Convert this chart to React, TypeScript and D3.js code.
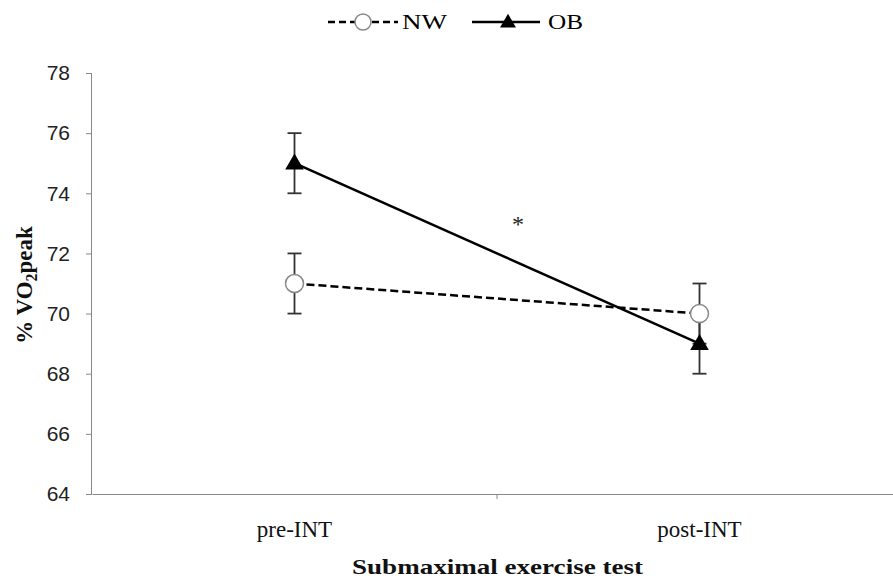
import React, { useEffect, useRef } from "react";
import * as d3 from "d3";

const categories = ["pre-INT", "post-INT"];
const nwValues = [71, 70];
const nwErrors = [1, 1];
const obValues = [75, 69];
const obErrors = [1, 1];
const yTicks = [64, 66, 68, 70, 72, 74, 76, 78];

const App = () => {
  const ref = useRef<SVGSVGElement>(null);

  useEffect(() => {
    const svg = d3.select(ref.current);
    svg.selectAll("*").remove();

    const width = 893;
    const height = 580;
    const left = 92;
    const right = 902;
    const top = 73;
    const bottom = 494;
    const serif = "Liberation Serif, Times New Roman, serif";

    const x = d3.scaleBand().domain(categories).range([left, right]);
    const y = d3.scaleLinear().domain([64, 78]).range([bottom, top]);
    const cx = (c: string) => (x(c) as number) + x.bandwidth() / 2;

    svg.attr("width", width).attr("height", height);
    svg.append("rect").attr("width", width).attr("height", height).attr("fill", "#fff");

    // y axis
    const yAxis = svg.append("g").attr("transform", `translate(${left},0)`)
      .call(d3.axisLeft(y).tickValues(yTicks).tickSize(6).tickPadding(16));
    yAxis.select(".domain").attr("stroke", "#888").attr("d", `M-0.5,${top}V${bottom}`);
    yAxis.selectAll(".tick line").attr("stroke", "#888");
    yAxis.selectAll("text").attr("font-family", "Liberation Sans, Arial, sans-serif")
      .attr("font-size", 21).attr("fill", "#222");

    // x axis
    const xAxis = svg.append("g").attr("transform", `translate(0,${bottom})`)
      .call(d3.axisBottom(x).tickSize(0).tickPadding(27));
    xAxis.select(".domain").attr("stroke", "#888");
    xAxis.selectAll("text").attr("font-family", serif)
      .attr("font-size", 23).attr("fill", "#111");
    xAxis.append("line").attr("x1", x("post-INT") as number).attr("x2", x("post-INT") as number)
      .attr("y1", 0).attr("y2", 5).attr("stroke", "#888");

    // axis titles
    svg.append("text").attr("x", 497.5).attr("y", 574)
      .attr("text-anchor", "middle").attr("font-family", serif)
      .attr("font-weight", "bold").attr("font-size", 22).attr("fill", "#111")
      .attr("textLength", 291).attr("lengthAdjust", "spacingAndGlyphs")
      .text("Submaximal exercise test");

    const yt = svg.append("text").attr("transform", `translate(32,285) rotate(-90)`)
      .attr("text-anchor", "middle").attr("font-family", serif)
      .attr("font-weight", "bold").attr("font-size", 23).attr("fill", "#111");
    yt.append("tspan").text("% VO");
    yt.append("tspan").attr("dy", 5).attr("font-size", 16).text("2");
    yt.append("tspan").attr("dy", -5).text("peak");

    // error bars
    const errBars = (vals: number[], errs: number[]) => {
      vals.forEach((v, i) => {
        const px = cx(categories[i]);
        const g = svg.append("g").attr("stroke", "#333").attr("stroke-width", 1.8);
        g.append("line").attr("x1", px).attr("x2", px).attr("y1", y(v + errs[i])).attr("y2", y(v - errs[i]));
        g.append("line").attr("x1", px - 7).attr("x2", px + 7).attr("y1", y(v + errs[i])).attr("y2", y(v + errs[i]));
        g.append("line").attr("x1", px - 7).attr("x2", px + 7).attr("y1", y(v - errs[i])).attr("y2", y(v - errs[i]));
      });
    };
    errBars(nwValues, nwErrors);
    errBars(obValues, obErrors);

    const line = d3.line<number>().x((_, i) => cx(categories[i])).y((d) => y(d));

    svg.append("path").datum(nwValues).attr("d", line).attr("fill", "none")
      .attr("stroke", "#000").attr("stroke-width", 2.5).attr("stroke-dasharray", "8,4");
    svg.append("path").datum(obValues).attr("d", line).attr("fill", "none")
      .attr("stroke", "#000").attr("stroke-width", 2.5);

    const tri = d3.symbol().type(d3.symbolTriangle).size(150);

    nwValues.forEach((v, i) => {
      svg.append("circle").attr("cx", cx(categories[i])).attr("cy", y(v)).attr("r", 9)
        .attr("fill", "#fff").attr("stroke", "#888").attr("stroke-width", 1.5);
    });
    obValues.forEach((v, i) => {
      svg.append("path").attr("d", tri as any)
        .attr("transform", `translate(${cx(categories[i])},${y(v) + 1})`).attr("fill", "#000");
    });

    // significance marker
    svg.append("text").attr("x", 518).attr("y", 232).attr("text-anchor", "middle")
      .attr("font-family", serif).attr("font-size", 24).attr("fill", "#222").text("*");

    // legend
    const lg = svg.append("g").attr("transform", "translate(0,22)");
    lg.append("line").attr("x1", 328).attr("x2", 398).attr("stroke", "#000")
      .attr("stroke-width", 2.5).attr("stroke-dasharray", "7,4");
    lg.append("circle").attr("cx", 363).attr("cy", 0).attr("r", 8).attr("fill", "#fff")
      .attr("stroke", "#888").attr("stroke-width", 1.5);
    lg.append("text").attr("x", 402).attr("y", 7).attr("font-family", serif)
      .attr("font-size", 22).attr("textLength", 45).attr("lengthAdjust", "spacingAndGlyphs").text("NW");
    lg.append("line").attr("x1", 472).attr("x2", 540).attr("stroke", "#000").attr("stroke-width", 2.5);
    lg.append("path").attr("d", d3.symbol().type(d3.symbolTriangle).size(110) as any)
      .attr("transform", "translate(508,1)").attr("fill", "#000");
    lg.append("text").attr("x", 548).attr("y", 7).attr("font-family", serif)
      .attr("font-size", 22).attr("textLength", 35).attr("lengthAdjust", "spacingAndGlyphs").text("OB");
  }, []);

  return <svg ref={ref} style={{ position: "absolute", left: 0, top: 0 }}></svg>;
};

export default App;
